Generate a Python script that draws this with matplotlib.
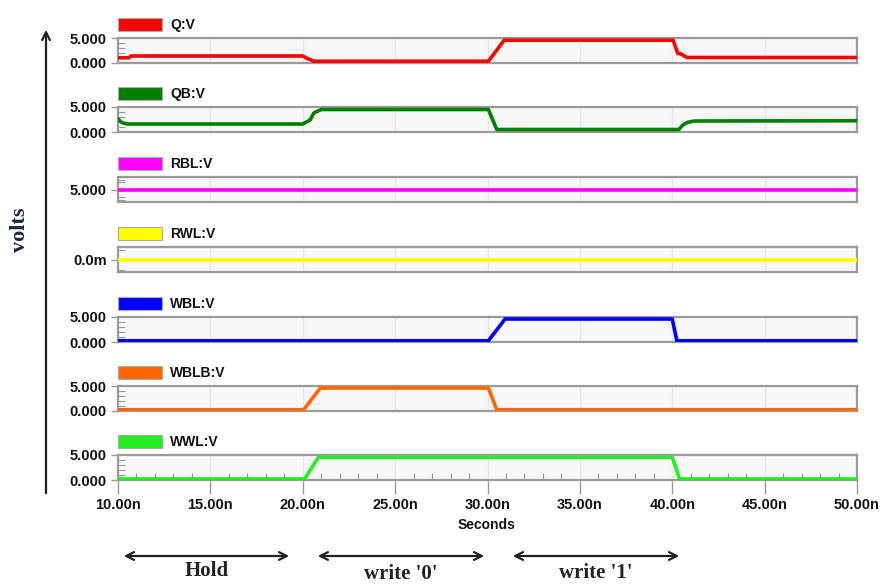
import matplotlib
matplotlib.use('Agg')
import matplotlib.pyplot as plt
import matplotlib.patches as mpatches
from matplotlib.ticker import FixedLocator

W, H = 880, 585

# ── signal data (ns, volts) ─────────────────────────────────────────────────
q_t = [10.0, 10.6, 10.7, 20.0, 20.3, 20.4, 20.6, 30.05, 30.9, 40.05, 40.3, 40.45, 40.8, 50.0]
q_v = [1.05, 1.05, 1.4, 1.4, 0.8, 0.7, 0.35, 0.35, 4.55, 4.55, 1.9, 1.85, 1.1, 1.1]

qb_t = [10.0, 10.2, 10.5, 20.0, 20.4, 20.6, 21.0, 30.05, 30.5, 40.35, 40.6, 40.85, 41.2, 50.0]
qb_v = [2.6, 1.9, 1.6, 1.6, 2.4, 3.8, 4.5, 4.5, 0.5, 0.5, 1.5, 1.95, 2.2, 2.25]

rbl_t = [10.0, 50.0]
rbl_v = [5.0, 5.0]

rwl_t = [10.0, 50.0]
rwl_v = [0.0, 0.0]

wbl_t = [10.0, 30.05, 30.95, 40.0, 40.25, 50.0]
wbl_v = [0.25, 0.25, 4.6, 4.6, 0.25, 0.25]

wblb_t = [10.0, 20.05, 20.95, 30.05, 30.5, 50.0]
wblb_v = [0.25, 0.25, 4.6, 4.6, 0.25, 0.25]

wwl_t = [10.0, 20.1, 20.85, 40.0, 40.4, 50.0]
wwl_v = [0.2, 0.2, 4.55, 4.55, 0.2, 0.2]

names = ['Q:V', 'QB:V', 'RBL:V', 'RWL:V', 'WBL:V', 'WBLB:V', 'WWL:V']
colors = ['#ff0000', '#008000', '#ff00ff', '#ffff00', '#0000ff', '#ff6600', '#22ee22']
series = [(q_t, q_v), (qb_t, qb_v), (rbl_t, rbl_v), (rwl_t, rwl_v),
          (wbl_t, wbl_v), (wblb_t, wblb_v), (wwl_t, wwl_v)]

x_ticks = [10, 15, 20, 25, 30, 35, 40, 45, 50]
x_labels = ['10.00n', '15.00n', '20.00n', '25.00n', '30.00n', '35.00n', '40.00n', '45.00n', '50.00n']

phase_names = ['Hold', "write '0'", "write '1'"]

# ── layout (pixels) ─────────────────────────────────────────────────────────
PX0, PX1 = 118, 857
TOPS = [38, 107, 177, 247, 317, 386, 455]
PH = 25
EDGE = '#9a9a9a'
SANS = ['Liberation Sans', 'DejaVu Sans']
SERIF = ['Liberation Serif', 'DejaVu Serif']

fig = plt.figure(figsize=(W / 100, H / 100), dpi=100)
fig.patch.set_facecolor('white')


def fx(px):
    return px / W


def fy(py):
    return 1 - py / H


for i, (name, col, (t, v), top) in enumerate(zip(names, colors, series, TOPS)):
    ax = fig.add_axes([fx(PX0), fy(top + PH), fx(PX1 - PX0), PH / H])
    ax.set_facecolor('#f7f7f7')
    for s in ax.spines.values():
        s.set_color(EDGE)
        s.set_linewidth(1.6)
    ax.set_xlim(10, 50)

    if name == 'RBL:V':
        ax.set_ylim(4.0, 6.0)
        ax.set_yticks([5.0])
        ax.set_yticklabels(['5.000'])
        ax.yaxis.set_minor_locator(FixedLocator([4.2, 4.4, 5.6, 5.8]))
    elif name == 'RWL:V':
        ax.set_ylim(-1.0, 1.0)
        ax.set_yticks([0.0])
        ax.set_yticklabels(['0.0m'])
        ax.yaxis.set_minor_locator(FixedLocator([-0.8, 0.8]))
    else:
        ax.set_ylim(0, 5)
        ax.set_yticks([0, 5])
        ax.set_yticklabels(['0.000', '5.000'])
        ax.yaxis.set_minor_locator(FixedLocator([1, 2, 3, 4]))

    ax.tick_params(axis='y', which='major', direction='out', length=5,
                   color=EDGE, width=1, pad=3)
    ax.tick_params(axis='y', which='minor', direction='in', length=5,
                   color=EDGE, width=0.8)
    for lbl in ax.get_yticklabels():
        lbl.set_fontfamily(SANS)
        lbl.set_fontweight('bold')
        lbl.set_fontsize(10.5)
        lbl.set_color('#111111')

    # faint vertical grid every 5 ns
    for gx in x_ticks[1:-1]:
        ax.axvline(gx, color='#e6e6e6', linewidth=0.9, zorder=1)

    ax.plot(t, v, color=col, linewidth=2.6, solid_joinstyle='round', zorder=3)

    if i == len(names) - 1:
        ax.set_xticks(x_ticks)
        ax.set_xticklabels(x_labels)
        ax.xaxis.set_minor_locator(FixedLocator([x for x in range(11, 50) if x % 5]))
        ax.tick_params(axis='x', which='major', direction='out', length=10,
                       color=EDGE, width=1, pad=3)
        ax.tick_params(axis='x', which='minor', direction='in', length=5,
                       color=EDGE, width=0.8)
        for lbl in ax.get_xticklabels():
            lbl.set_fontfamily(SANS)
            lbl.set_fontweight('bold')
            lbl.set_fontsize(10.5)
            lbl.set_color('#111111')
    else:
        ax.set_xticks([])

    # legend swatch + signal name
    fig.add_artist(mpatches.Rectangle((fx(PX0), fy(top - 7)), fx(44), 13 / H,
                                      transform=fig.transFigure,
                                      facecolor=col, edgecolor='#aaaaaa', linewidth=0.8))
    fig.text(fx(170), fy(top - 13), name, ha='left', va='center',
             fontsize=10, fontweight='bold', family=SANS, color='#111111')

fig.text(fx(487), fy(525), 'Seconds', ha='center', va='center',
         fontsize=10, fontweight='bold', family=SANS, color='#111111')

# vertical voltage axis arrow and label
fig.add_artist(mpatches.FancyArrowPatch((fx(46), fy(496)), (fx(46), fy(27)),
                                        transform=fig.transFigure,
                                        arrowstyle='->', mutation_scale=14,
                                        color='#222222', linewidth=1.6))
fig.text(fx(20), fy(230), 'volts', rotation=90, ha='center', va='center',
         fontsize=16, fontweight='bold', family=SERIF, color='#1a2540')

# operation phases under the time axis
phase_spans = [(121, 292), (315, 487), (510, 682)]
phase_text_y = [571, 574, 573]
for (a, b), label, ty in zip(phase_spans, phase_names, phase_text_y):
    fig.add_artist(mpatches.FancyArrowPatch((fx(a), fy(556)), (fx(b), fy(556)),
                                            transform=fig.transFigure,
                                            arrowstyle='<->', mutation_scale=14,
                                            color='#222222', linewidth=1.6))
    fig.text(fx((a + b) / 2), fy(ty), label, ha='center', va='center',
             fontsize=15, fontweight='bold', family=SERIF, color='#222222')

fig.savefig('out.png', dpi=100, facecolor='white')
